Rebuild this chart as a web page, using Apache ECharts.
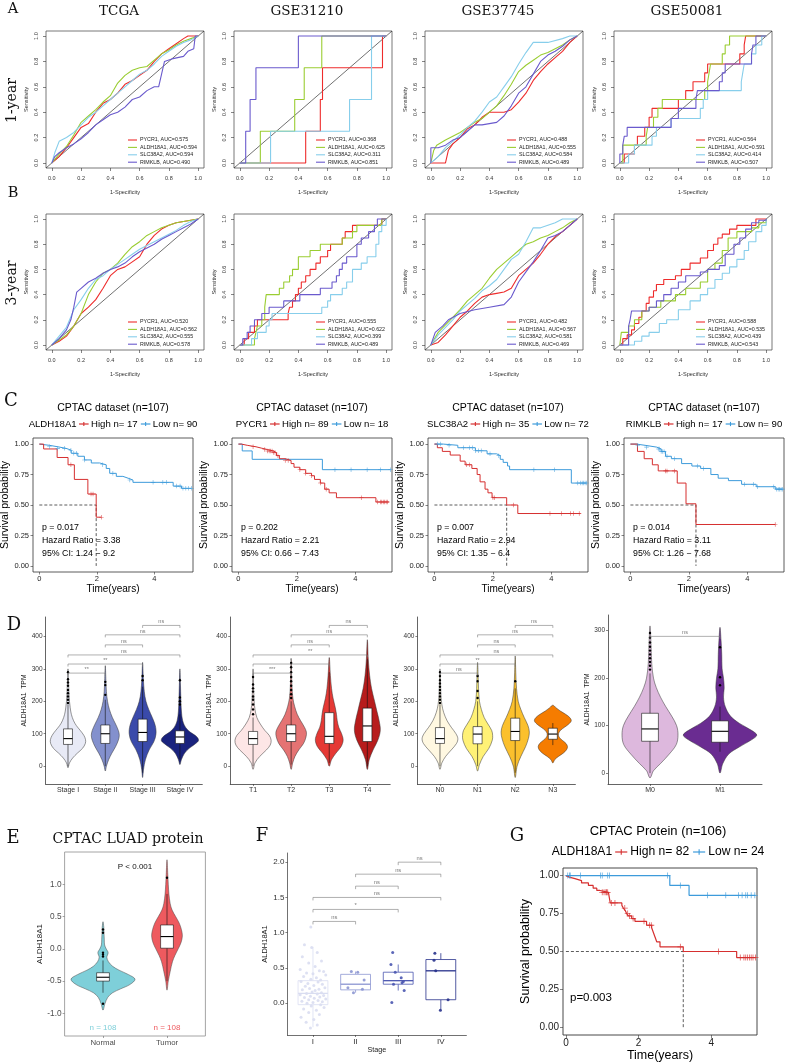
<!DOCTYPE html>
<html><head><meta charset="utf-8"><title>Figure</title>
<script src="https://cdn.jsdelivr.net/npm/echarts@6.0.0/dist/echarts.min.js"></script>
<style>html,body{margin:0;padding:0;background:#fff;}#chart{width:786px;height:1062px;}</style>
</head><body><div id="chart"></div>
<script>
// ======================= DATA =======================
// ---- ROC (A / B) ----
const rocDatasets = ['TCGA','GSE31210','GSE37745','GSE50081'];
const rocGenes = ['PYCR1','ALDH18A1','SLC38A2','RIMKLB'];
const rocAuc1Year = [[0.575,0.594,0.594,0.490],[0.368,0.625,0.311,0.851],[0.488,0.555,0.584,0.489],[0.564,0.591,0.414,0.507]];
const rocAuc3Year = [[0.520,0.562,0.555,0.578],[0.555,0.622,0.399,0.489],[0.482,0.567,0.581,0.469],[0.588,0.535,0.439,0.543]];
const rocTicks = [0,0.2,0.4,0.6,0.8,1.0];
const rocRefLine = [[-0.04,-0.04],[1.04,1.04]];
const rocSteppedDatasets = [false,true,false,true];

const rocTCGA1Year = [
 [[0,0],[0.05,0.05],[0.1,0.12],[0.15,0.2],[0.2,0.28],[0.25,0.31],[0.3,0.4],[0.35,0.47],[0.4,0.5],[0.45,0.55],[0.5,0.62],[0.55,0.65],[0.6,0.69],[0.65,0.73],[0.7,0.8],[0.75,0.86],[0.8,0.9],[0.85,0.94],[0.9,0.98],[0.93,1],[1,1]],
 [[0,0],[0.05,0.07],[0.1,0.13],[0.15,0.22],[0.2,0.32],[0.25,0.37],[0.3,0.42],[0.35,0.48],[0.4,0.53],[0.45,0.63],[0.5,0.69],[0.55,0.73],[0.6,0.75],[0.65,0.76],[0.7,0.81],[0.75,0.86],[0.8,0.89],[0.85,0.93],[0.9,0.96],[0.95,0.98],[1,1]],
 [[0,0],[0.02,0.08],[0.05,0.17],[0.1,0.2],[0.15,0.24],[0.2,0.3],[0.25,0.36],[0.3,0.4],[0.35,0.45],[0.4,0.5],[0.45,0.55],[0.5,0.6],[0.55,0.65],[0.6,0.7],[0.65,0.73],[0.7,0.78],[0.75,0.84],[0.8,0.88],[0.85,0.92],[0.9,0.95],[0.95,0.97],[1,1]],
 [[0,0],[0.02,0.05],[0.05,0.08],[0.1,0.12],[0.15,0.15],[0.2,0.19],[0.25,0.24],[0.3,0.3],[0.35,0.34],[0.4,0.38],[0.45,0.4],[0.5,0.44],[0.55,0.5],[0.6,0.52],[0.65,0.57],[0.7,0.6],[0.73,0.6],[0.75,0.7],[0.77,0.8],[0.82,0.82],[0.9,0.84],[0.93,0.88],[0.97,0.9],[0.98,1],[1,1]]
];
const rocGSE31210_1Year = [
 [[0,0],[0.45,0],[0.45,0.25],[0.55,0.25],[0.55,0.5],[0.565,0.5],[0.565,0.75],[0.975,0.75],[0.975,1],[1,1]],
 [[0,0],[0.14,0],[0.14,0.25],[0.375,0.25],[0.375,0.5],[0.44,0.5],[0.44,0.75],[0.56,0.75],[0.56,1],[1,1]],
 [[0,0],[0.21,0],[0.21,0.25],[0.75,0.25],[0.75,0.5],[0.9,0.5],[0.9,1],[1,1]],
 [[0,0],[0.04,0],[0.04,0.25],[0.07,0.25],[0.07,0.5],[0.11,0.5],[0.11,0.75],[0.4,0.75],[0.4,1],[1,1]]
];
const rocGSE37745_1Year = [
 [[0,0],[0.1,0],[0.12,0.1],[0.15,0.15],[0.2,0.2],[0.25,0.27],[0.3,0.3],[0.35,0.36],[0.4,0.4],[0.45,0.4],[0.5,0.4],[0.55,0.42],[0.6,0.48],[0.65,0.55],[0.7,0.65],[0.75,0.72],[0.8,0.78],[0.85,0.83],[0.9,0.88],[0.95,0.95],[1,1]],
 [[0,0],[0.02,0.1],[0.04,0.14],[0.1,0.18],[0.15,0.21],[0.2,0.24],[0.25,0.28],[0.3,0.32],[0.35,0.35],[0.4,0.4],[0.45,0.45],[0.5,0.53],[0.55,0.62],[0.6,0.72],[0.65,0.77],[0.7,0.81],[0.75,0.85],[0.8,0.87],[0.85,0.9],[0.9,0.93],[0.95,0.97],[1,1]],
 [[0,0],[0.05,0.05],[0.1,0.12],[0.15,0.17],[0.2,0.22],[0.25,0.28],[0.3,0.33],[0.35,0.4],[0.4,0.48],[0.45,0.52],[0.5,0.6],[0.55,0.68],[0.6,0.78],[0.65,0.87],[0.7,0.95],[0.8,0.95],[0.9,0.98],[0.95,1],[1,1]],
 [[0,0],[0,0.12],[0.05,0.12],[0.1,0.14],[0.15,0.18],[0.2,0.2],[0.25,0.25],[0.3,0.3],[0.35,0.3],[0.45,0.32],[0.5,0.37],[0.55,0.45],[0.6,0.55],[0.65,0.6],[0.7,0.7],[0.75,0.8],[0.8,0.85],[0.85,0.88],[0.9,0.92],[0.95,0.97],[1,1]]
];
const rocGSE50081_1Year = [
 [[0,0],[0.03,0.07],[0.1,0.14],[0.12,0.21],[0.17,0.28],[0.2,0.36],[0.22,0.43],[0.4,0.5],[0.45,0.57],[0.5,0.64],[0.58,0.71],[0.6,0.78],[0.82,0.86],[0.85,0.93],[0.86,1],[1,1]],
 [[0,0],[0.02,0.14],[0.18,0.21],[0.19,0.28],[0.23,0.36],[0.26,0.43],[0.29,0.5],[0.58,0.57],[0.6,0.64],[0.61,0.71],[0.62,0.78],[0.7,0.86],[0.72,0.93],[0.75,1],[1,1]],
 [[0,0],[0.06,0.07],[0.1,0.14],[0.22,0.21],[0.25,0.28],[0.35,0.35],[0.55,0.43],[0.57,0.5],[0.6,0.57],[0.83,0.64],[0.84,0.71],[0.85,0.78],[0.9,0.86],[0.93,0.93],[0.97,1],[1,1]],
 [[0,0],[0,0.07],[0.02,0.14],[0.03,0.21],[0.05,0.28],[0.35,0.35],[0.4,0.43],[0.52,0.5],[0.53,0.57],[0.68,0.64],[0.7,0.71],[0.72,0.78],[0.9,0.86],[0.91,0.93],[0.93,1],[1,1]]
];
const rocTCGA3Year = [
 [[0,0],[0.05,0.03],[0.1,0.07],[0.15,0.15],[0.2,0.25],[0.25,0.3],[0.3,0.36],[0.35,0.45],[0.4,0.55],[0.45,0.6],[0.5,0.62],[0.55,0.66],[0.6,0.7],[0.65,0.8],[0.7,0.87],[0.75,0.92],[0.8,0.95],[0.85,0.97],[0.9,0.98],[0.95,0.99],[1,1]],
 [[0,0],[0.05,0.04],[0.1,0.08],[0.15,0.15],[0.2,0.25],[0.25,0.4],[0.3,0.5],[0.35,0.57],[0.4,0.6],[0.45,0.65],[0.5,0.72],[0.55,0.78],[0.6,0.82],[0.65,0.87],[0.7,0.9],[0.75,0.93],[0.8,0.95],[0.85,0.97],[0.9,0.98],[0.95,0.99],[1,1]],
 [[0,0],[0.05,0.07],[0.1,0.14],[0.15,0.28],[0.2,0.36],[0.25,0.45],[0.3,0.52],[0.35,0.55],[0.4,0.6],[0.45,0.64],[0.5,0.68],[0.55,0.72],[0.6,0.76],[0.65,0.79],[0.7,0.82],[0.75,0.85],[0.8,0.88],[0.85,0.91],[0.9,0.95],[0.95,0.98],[1,1]],
 [[0,0],[0.05,0.05],[0.1,0.12],[0.13,0.2],[0.15,0.3],[0.17,0.42],[0.2,0.45],[0.25,0.5],[0.3,0.53],[0.35,0.57],[0.4,0.6],[0.45,0.62],[0.5,0.65],[0.55,0.7],[0.6,0.74],[0.65,0.77],[0.7,0.8],[0.75,0.84],[0.8,0.87],[0.85,0.9],[0.9,0.93],[0.95,0.96],[1,1]]
];
const rocGSE31210_3Year = [
 [[0,0],[0.03,0.05],[0.06,0.1],[0.1,0.15],[0.12,0.2],[0.33,0.25],[0.34,0.3],[0.36,0.35],[0.38,0.4],[0.4,0.45],[0.42,0.5],[0.45,0.55],[0.48,0.6],[0.52,0.65],[0.55,0.7],[0.6,0.75],[0.62,0.8],[0.7,0.85],[0.72,0.9],[0.77,0.95],[0.97,1],[1,1]],
 [[0,0],[0.1,0.05],[0.11,0.1],[0.12,0.15],[0.15,0.2],[0.17,0.3],[0.18,0.4],[0.27,0.45],[0.3,0.5],[0.34,0.55],[0.36,0.6],[0.4,0.7],[0.48,0.75],[0.55,0.8],[0.7,0.85],[0.77,0.9],[0.8,0.95],[0.97,1],[1,1]],
 [[0,0],[0.08,0.05],[0.12,0.1],[0.18,0.15],[0.2,0.2],[0.22,0.25],[0.56,0.3],[0.6,0.35],[0.62,0.4],[0.7,0.45],[0.73,0.5],[0.77,0.6],[0.83,0.65],[0.87,0.7],[0.93,0.8],[0.95,0.9],[0.97,0.95],[1,1]],
 [[0,0],[0.02,0.05],[0.05,0.1],[0.07,0.15],[0.1,0.2],[0.15,0.25],[0.2,0.3],[0.3,0.35],[0.41,0.4],[0.55,0.45],[0.63,0.5],[0.66,0.55],[0.68,0.6],[0.7,0.65],[0.73,0.7],[0.8,0.8],[0.83,0.85],[0.88,0.9],[0.92,0.95],[0.94,1],[1,1]]
];
const rocGSE37745_3Year = [
 [[0,0],[0.05,0.02],[0.1,0.08],[0.15,0.15],[0.2,0.22],[0.25,0.27],[0.3,0.33],[0.35,0.38],[0.4,0.4],[0.45,0.41],[0.5,0.42],[0.55,0.45],[0.6,0.55],[0.65,0.6],[0.7,0.65],[0.75,0.72],[0.8,0.8],[0.85,0.86],[0.9,0.9],[0.95,0.95],[1,1]],
 [[0,0],[0.05,0.1],[0.1,0.16],[0.15,0.22],[0.2,0.28],[0.25,0.35],[0.3,0.4],[0.35,0.45],[0.4,0.53],[0.45,0.6],[0.5,0.65],[0.55,0.7],[0.6,0.75],[0.65,0.8],[0.7,0.82],[0.75,0.85],[0.8,0.87],[0.85,0.9],[0.9,0.93],[0.95,0.97],[1,1]],
 [[0,0],[0.05,0.08],[0.1,0.14],[0.15,0.2],[0.2,0.27],[0.25,0.32],[0.3,0.37],[0.35,0.43],[0.4,0.47],[0.45,0.52],[0.5,0.6],[0.55,0.68],[0.6,0.72],[0.65,0.82],[0.7,0.93],[0.75,0.93],[0.8,0.95],[0.85,0.97],[0.9,1],[1,1]],
 [[0,0],[0.03,0.1],[0.08,0.15],[0.12,0.2],[0.2,0.25],[0.3,0.28],[0.4,0.3],[0.5,0.32],[0.55,0.38],[0.6,0.5],[0.65,0.58],[0.7,0.66],[0.75,0.75],[0.8,0.85],[0.85,0.87],[0.9,0.9],[0.95,0.95],[1,1]]
];
const rocGSE50081_3Year = [
 [[0,0],[0.02,0.05],[0.05,0.08],[0.08,0.12],[0.1,0.17],[0.13,0.22],[0.15,0.27],[0.18,0.33],[0.2,0.38],[0.23,0.43],[0.25,0.48],[0.3,0.52],[0.38,0.55],[0.42,0.6],[0.48,0.65],[0.55,0.69],[0.6,0.75],[0.64,0.8],[0.67,0.85],[0.7,0.88],[0.75,0.92],[0.8,0.95],[0.93,1],[1,1]],
 [[0,0],[0.01,0.1],[0.06,0.15],[0.1,0.2],[0.15,0.27],[0.2,0.3],[0.28,0.35],[0.38,0.4],[0.45,0.45],[0.55,0.5],[0.6,0.6],[0.65,0.65],[0.7,0.75],[0.74,0.85],[0.8,0.9],[0.9,0.93],[0.95,0.97],[1,1]],
 [[0,0],[0.1,0.03],[0.15,0.07],[0.2,0.1],[0.27,0.17],[0.32,0.2],[0.4,0.28],[0.48,0.35],[0.55,0.4],[0.6,0.45],[0.65,0.52],[0.7,0.57],[0.75,0.62],[0.8,0.68],[0.85,0.75],[0.88,0.82],[0.93,0.9],[0.97,0.95],[1,1]],
 [[0,0],[0.06,0.15],[0.07,0.2],[0.08,0.27],[0.2,0.3],[0.25,0.35],[0.3,0.4],[0.35,0.45],[0.4,0.5],[0.45,0.55],[0.55,0.58],[0.6,0.6],[0.68,0.63],[0.72,0.72],[0.78,0.8],[0.82,0.85],[0.86,0.92],[0.9,0.97],[0.95,0.99],[1,1]]
];

// ---- Kaplan-Meier (C) ----
const kmGenes = ['ALDH18A1','PYCR1','SLC38A2','RIMKLB'];
const kmHighN = [17,89,35,17];
const kmLowN = [90,18,72,90];
const kmPValues = ['0.017','0.202','0.007','0.014'];
const kmHazardRatios = ['3.38','2.21','2.94','3.11'];
const kmCIs = ['1.24 − 9.2','0.66 − 7.43','1.35 − 6.4','1.26 − 7.68'];
const kmMedians = [1.98,null,2.47,2.24];
const kmXMax = [5.35,5.25,5.25,5.25];
const kmTimeTicks = [0,2,4];
const kmSurvTicks = [0,0.25,0.5,0.75,1];
const kmHighSurv = [
 [[0,1],[0.15,0.96],[0.62,0.89],[1.0,0.83],[1.22,0.71],[1.69,0.59],[1.98,0.40],[2.16,0.40]],
 [[0,1],[0.1,0.99],[0.3,0.978],[0.6,0.966],[0.8,0.955],[1.0,0.943],[1.2,0.93],[1.3,0.905],[1.4,0.88],[1.6,0.865],[1.8,0.84],[1.9,0.81],[2.1,0.79],[2.3,0.76],[2.5,0.74],[2.6,0.71],[2.8,0.68],[2.95,0.63],[3.1,0.6],[3.35,0.56],[4.7,0.525],[5.15,0.525]],
 [[0,1],[0.1,0.97],[0.27,0.94],[0.54,0.91],[0.88,0.86],[1.05,0.83],[1.28,0.8],[1.46,0.75],[1.56,0.69],[1.73,0.63],[1.83,0.6],[1.97,0.56],[2.47,0.5],[2.85,0.43],[5.0,0.43]],
 [[0,1],[0.24,0.94],[0.47,0.88],[0.75,0.83],[0.95,0.78],[1.6,0.68],[1.9,0.51],[2.24,0.34],[4.95,0.34]]
];
const kmLowSurv = [
 [[0,1],[0.05,0.99],[0.35,0.978],[0.64,0.965],[0.93,0.95],[1.11,0.925],[1.34,0.9],[1.57,0.87],[1.81,0.845],[2.1,0.83],[2.33,0.8],[2.45,0.76],[2.68,0.735],[2.91,0.72],[3.09,0.705],[3.26,0.686],[4.66,0.655],[4.95,0.637],[5.3,0.637]],
 [[0,1],[0.13,0.944],[0.47,0.875],[2.87,0.79],[5.2,0.79]],
 [[0,1],[0.3,0.99],[0.8,0.97],[1.4,0.945],[1.8,0.92],[2.13,0.905],[2.25,0.875],[2.35,0.85],[2.5,0.82],[2.57,0.79],[4.68,0.68],[5.2,0.68]],
 [[0,1],[0.2,0.99],[0.5,0.975],[0.9,0.96],[1.05,0.94],[1.2,0.9],[1.4,0.88],[1.75,0.84],[2.1,0.82],[2.4,0.8],[2.75,0.75],[3.0,0.72],[3.35,0.7],[3.8,0.67],[4.3,0.65],[4.95,0.63],[5.2,0.63]]
];
const kmHighCensor = [
 [1.1,1.8,1.87,2.16],
 [0.5,0.9,1.0,1.05,1.1,1.15,1.2,1.25,1.35,1.6,1.7,2.1,2.3,2.5,2.8,3.0,4.2,4.75,4.85,4.9,4.95,5.0,5.05,5.1],
 [1.1,1.2,2.0,2.05,2.7,3.95,4.35,4.65,4.75,4.95],
 [1.2,1.25,1.5,4.95]
];
const kmLowCensor = [
 [0.35,0.64,0.87,1.1,1.2,1.3,1.57,2.2,2.56,3.15,3.96,4.3,4.43,4.78,4.9,5.0,5.1,5.2,5.3],
 [3.3,3.85,4.4,4.85,5.2],
 [0.1,0.2,0.5,1.0,1.2,1.3,1.4,1.5,1.6,1.9,2.2,3.4,4.1,4.9,5.0,5.05,5.1,5.15,5.2],
 [0.25,0.55,0.95,1.0,1.05,1.1,1.15,1.25,1.5,2.3,2.5,3.9,4.2,4.35,4.9,5.0,5.05,5.1,5.15,5.2]
];

// ---- Violins (D) : profiles are [value, relative density] ----
const stageCats = ['Stage I','Stage II','Stage III','Stage IV'];
const stageViolins = [
 [[-5,0],[10,0.08],[25,0.25],[40,0.5],[55,0.78],[70,0.93],[82,0.94],[95,0.85],[110,0.66],[125,0.45],[140,0.3],[160,0.18],[180,0.12],[200,0.08],[230,0.05],[260,0.03],[300,0]],
 [[-15,0],[0,0.06],[20,0.18],[40,0.35],[60,0.55],[80,0.7],[95,0.75],[110,0.7],[130,0.55],[150,0.38],[175,0.22],[200,0.12],[230,0.06],[270,0.03],[310,0]],
 [[-35,0],[-10,0.05],[20,0.15],[50,0.35],[75,0.6],[100,0.72],[125,0.68],[150,0.52],[175,0.33],[200,0.18],[230,0.09],[270,0.04],[320,0]],
 [[5,0],[20,0.08],[40,0.25],[55,0.5],[70,0.85],[80,1.0],[92,0.88],[105,0.55],[120,0.3],[140,0.15],[170,0.08],[210,0.05],[250,0.03],[300,0]]
];
const stageBoxes = [[0,67,85,115,190],[0,70,100,127,205],[-20,76,104,145,245],[20,70,90,109,160]];
const stageOutliers = [[195,205,215,225,235,248,258,268,290],[220,250,260],[265,278],[190,200,212,265]];
const stageComparisons = [[0,1,287,'**'],[0,2,315,'**'],[0,3,343,'ns'],[1,2,374,'ns'],[1,3,405,'ns'],[2,3,434,'ns']];

const tCats = ['T1','T2','T3','T4'];
const tViolins = [
 [[-10,0],[10,0.1],[30,0.35],[50,0.7],[65,0.9],[80,0.95],[95,0.85],[110,0.62],[130,0.38],[150,0.2],[175,0.1],[200,0.06],[240,0.03],[300,0]],
 [[-10,0],[10,0.08],[30,0.2],[50,0.4],[70,0.65],[90,0.78],[105,0.8],[120,0.7],[140,0.5],[160,0.32],[185,0.18],[210,0.09],[250,0.04],[330,0]],
 [[0,0],[20,0.12],[40,0.35],[60,0.62],[80,0.73],[100,0.65],[120,0.5],[140,0.42],[160,0.38],[180,0.32],[210,0.2],[240,0.12],[280,0.06],[335,0]],
 [[-10,0],[20,0.1],[50,0.3],[80,0.55],[110,0.68],[140,0.62],[170,0.5],[200,0.38],[240,0.22],[280,0.12],[330,0.05],[390,0]]
];
const tBoxes = [[0,67,85,107,150],[5,76,100,127,200],[10,70,92,165,290],[0,76,124,179,330]];
const tOutliers = [[160,175,190,205,215,230,240,252,275],[210,222,235,248,262,275,290,305,318],[],[]];
const tComparisons = [[0,1,287,'***'],[0,2,315,'*'],[0,3,343,'**'],[1,2,374,'ns'],[1,3,405,'ns'],[2,3,434,'ns']];

const nCats = ['N0','N1','N2','N3'];
const nViolins = [
 [[-10,0],[10,0.1],[30,0.3],[50,0.6],[70,0.88],[85,0.95],[100,0.85],[120,0.6],[140,0.38],[165,0.2],[190,0.1],[220,0.05],[260,0.03],[300,0]],
 [[-15,0],[5,0.1],[30,0.3],[55,0.6],[80,0.78],[95,0.8],[110,0.75],[130,0.55],[150,0.35],[175,0.2],[200,0.1],[240,0.05],[280,0.03],[320,0]],
 [[-35,0],[0,0.1],[30,0.3],[60,0.55],[85,0.7],[105,0.75],[125,0.68],[150,0.48],[175,0.3],[200,0.16],[240,0.07],[290,0.03],[340,0]],
 [[10,0],[20,0.1],[30,0.3],[40,0.55],[50,0.72],[60,0.78],[70,0.7],[80,0.5],[90,0.33],[100,0.3],[110,0.4],[120,0.62],[130,0.85],[140,0.98],[150,0.9],[160,0.68],[170,0.4],[180,0.17],[188,0]]
];
const nBoxes = [[0,70,85,119,190],[0,69,99,122,200],[-20,79,107,148,240],[65,83,99,117,133]];
const nOutliers = [[195,205,215,225,235,245,255,265,278,290],[210,232,262,278],[262],[]];
const nComparisons = [[0,1,287,'ns'],[0,2,315,'**'],[0,3,343,'ns'],[1,2,374,'ns'],[1,3,405,'ns'],[2,3,434,'ns']];

const mCats = ['M0','M1'];
const mViolins = [
 [[-10,0],[5,0.1],[20,0.3],[40,0.55],[60,0.75],[80,0.8],[100,0.76],[120,0.62],[140,0.45],[160,0.3],[180,0.18],[200,0.1],[230,0.05],[270,0.03],[310,0]],
 [[0,0],[20,0.08],[40,0.25],[55,0.55],[70,0.9],[80,1.05],[90,0.9],[105,0.55],[120,0.3],[140,0.15],[160,0.1],[180,0.12],[200,0.1],[220,0.06],[250,0.05],[280,0.03],[307,0]]
];
const mBoxes = [[0,67,93,126,210],[45,65,88,110,140]];
const mOutliers = [[218,226,234,242,250,258,266,275,285,295],[185,202,265]];
const mComparisons = [[0,1,288,'ns']];
const tpmTicks = [0,100,200,300,400];
const tpmTicksM = [0,100,200,300];

// ---- E ----
const eCats = ['Normal','Tumor'];
const eViolins = [
 [[-0.95,0],[-0.85,0.06],[-0.75,0.15],[-0.68,0.3],[-0.62,0.55],[-0.55,0.85],[-0.47,1.0],[-0.4,0.8],[-0.33,0.5],[-0.27,0.3],[-0.2,0.17],[-0.13,0.12],[-0.06,0.16],[0.0,0.1],[0.06,0.05],[0.15,0.04],[0.25,0.03],[0.33,0.025],[0.42,0]],
 [[-0.64,0],[-0.5,0.04],[-0.35,0.1],[-0.2,0.17],[-0.1,0.25],[0,0.35],[0.1,0.44],[0.2,0.48],[0.3,0.45],[0.4,0.38],[0.5,0.27],[0.6,0.16],[0.7,0.1],[0.85,0.06],[1.0,0.04],[1.15,0.025],[1.38,0]]
];
const eBoxes = [[-0.68,-0.5,-0.44,-0.37,-0.18],[-0.5,0.01,0.19,0.37,0.85]];
const eOutliers = [[-0.85,-0.12,-0.09,-0.06,0.25,0.3],[1.1]];
const eCounts = [108,108];
const ePText = 'P < 0.001';
const eTicks = [-1,-0.5,0,0.5,1];

// ---- F ----
const fCats = ['I','II','III','IV'];
const fBoxes = [[-0.34,-0.02,0.14,0.32,0.8],[0.15,0.19,0.27,0.41,0.45],[0.18,0.27,0.32,0.44,0.55],[-0.09,0.05,0.46,0.62,0.71]];
const fPointsStageI = [[-0.05,1.08],[-0.2,0.83],[-0.03,0.79],[0.1,0.72],[-0.25,0.66],[0.2,0.6],[-0.1,0.57],[0.05,0.52],[-0.3,0.48],[0.15,0.46],[0.25,0.45],[-0.15,0.43],[0.0,0.42],[0.3,0.4],[-0.22,0.38],[0.08,0.36],[-0.05,0.34],[0.18,0.33],[-0.28,0.31],[0.12,0.3],[-0.12,0.28],[0.22,0.27],[0.02,0.25],[-0.18,0.24],[0.28,0.22],[-0.08,0.21],[0.14,0.2],[-0.25,0.19],[0.05,0.18],[-0.02,0.16],[0.2,0.15],[-0.15,0.14],[0.1,0.13],[-0.3,0.12],[0.25,0.11],[-0.06,0.1],[0.16,0.09],[-0.2,0.08],[0.03,0.07],[0.3,0.06],[-0.1,0.05],[0.12,0.04],[-0.26,0.03],[0.22,0.02],[0.0,0.01],[-0.14,0.0],[0.18,-0.02],[-0.04,-0.04],[0.26,-0.06],[-0.22,-0.08],[0.08,-0.1],[-0.1,-0.13],[0.15,-0.16],[-0.28,-0.2],[0.02,-0.23],[-0.16,-0.27],[0.1,-0.31],[-0.06,-0.35]];
const fPointsStageII = [[-0.1,0.45],[0.05,0.44],[0.2,0.33],[-0.18,0.22],[-0.05,0.15],[0.16,0.2]];
const fPointsStageIII = [[-0.13,0.72],[-0.17,0.55],[-0.07,0.44],[0.07,0.36],[0.12,0.31],[0.09,0.29],[-0.11,0.27],[0.14,0.18],[-0.15,0.01]];
const fPointsStageIV = [[-0.14,0.71],[-0.16,0.61],[-0.12,0.46],[0.17,0.05],[-0.01,-0.1]];
const fComparisons = [[0,1,1.16,'ns'],[0,2,1.33,'*'],[0,3,1.5,'ns'],[1,2,1.66,'ns'],[1,3,1.83,'ns'],[2,3,2.0,'ns']];
const fTicks = [0,0.5,1,1.5,2];

// ---- G ----
const gGene = 'ALDH18A1';
const gHighN = 82, gLowN = 24;
const gPText = 'p=0.003';
const gMedian = 3.23;
const gHighSurv = [[0,1],[0.05,0.99],[0.09,0.98],[0.25,0.967],[0.43,0.952],[0.62,0.935],[0.75,0.917],[0.85,0.902],[0.94,0.89],[1.17,0.878],[1.22,0.82],[1.54,0.804],[1.58,0.786],[1.63,0.771],[1.67,0.75],[1.72,0.734],[1.81,0.717],[1.9,0.699],[2.22,0.673],[2.36,0.656],[2.4,0.63],[2.45,0.597],[2.5,0.564],[2.59,0.531],[3.23,0.5],[4.7,0.46],[5.22,0.46]];
const gLowSurv = [[0,1],[2.86,0.935],[3.39,0.87],[5.22,0.87]];
const gHighCensor = [1.0,1.05,1.1,1.12,1.15,1.25,1.35,1.62,1.7,1.75,1.85,2.15,2.3,2.35,3.15,4.2,4.8,4.9,4.95,5.0,5.05,5.1,5.15,5.22];
const gLowCensor = [0.05,0.1,0.12,0.4,0.95,1.0,1.15,1.2,2.8,3.15,3.9,4.4,4.75,4.85,4.95,5.0,5.1,5.2];

// ======================= STYLE =======================
const SANS = 'Liberation Sans', SERIF = 'DejaVu Serif';
const rocColors = ['#EE2C2C','#9ACD32','#87CEEB','#6A5ACD'];
const kmRed = '#D62F2F', kmBlue = '#3D9BDB';
const stageColors = ['#E8EAF6','#8390CD','#3A4AAA','#1A237E'];
const tColors = ['#FDE6E6','#E57373','#E53935','#B71C1C'];
const nColors = ['#FFF8E1','#FFF176','#FBC02D','#F57C00'];
const mColors = ['#DDB8DD','#6A2C91'];
const eColors = ['#7ECFD9','#EE5A5F'];
const fColors = ['#D9DDF1','#8C96D2','#4A56B0','#28328C'];
const PLUS = 'path://M-0.13,-1L0.13,-1L0.13,-0.13L1,-0.13L1,0.13L0.13,0.13L0.13,1L-0.13,1L-0.13,0.13L-1,0.13L-1,-0.13L-0.13,-0.13Z';

// ======================= HELPERS =======================
const grids=[], xAxes=[], yAxes=[], series=[], graphic=[], panels=[];
const mctx = document.createElement('canvas').getContext('2d');
function tw(s,size,fam){ mctx.font = size+'px "'+(fam||SANS)+'"'; return mctx.measureText(s).width; }
function axis(o){
  return {type:'value', splitLine:{show:false},
    axisLine:{show:!!o.line,onZero:false,lineStyle:{color:o.lineColor||'#000',width:0.7}},
    axisTick:{show:o.tick!==false,inside:false,length:o.tickLen||2.5,customValues:o.ticks,lineStyle:{color:o.tickColor||'#333',width:0.6}},
    axisLabel:{show:true,customValues:o.labels||o.ticks,formatter:o.fmt,fontSize:o.size,fontFamily:SANS,color:o.labelColor||'#222',margin:o.margin,rotate:o.rotate||0,hideOverlap:false},
    name:o.name||'',nameLocation:'middle',nameGap:o.nameGap||0,
    nameTextStyle:{fontSize:o.nameSize||o.size,fontFamily:SANS,color:o.nameColor||'#000'}};
}
function addPanel(p,xa,ya,g){
  const gi=grids.length;
  grids.push(Object.assign({left:p.left,top:p.top,width:p.width,height:p.height,containLabel:false,outerBoundsMode:'none',show:false},g||{}));
  xa.gridIndex=gi; xa.min=p.xmin; xa.max=p.xmax;
  ya.gridIndex=gi; ya.min=p.ymin; ya.max=p.ymax;
  xAxes.push(xa); yAxes.push(ya); panels.push(p);
  return gi;
}
function px(gi,x,y){ const p=panels[gi]; return [p.left+(x-p.xmin)/(p.xmax-p.xmin)*p.width, p.top+(p.ymax-y)/(p.ymax-p.ymin)*p.height]; }
function text(str,x,y,o){
  o=o||{};
  graphic.push({type:'text',silent:true,x:x,y:y,rotation:o.rot||0,
    style:{text:str,x:0,y:0,fill:o.color||'#000',font:(o.weight||'normal')+' '+o.size+'px "'+(o.family||SANS)+'"',
      textAlign:o.align||'center',textVerticalAlign:o.valign||'middle',align:o.align||'center',verticalAlign:o.valign||'middle'}});
}
function gline(x1,y1,x2,y2,color,w,dash){
  graphic.push({type:'line',silent:true,shape:{x1:x1,y1:y1,x2:x2,y2:y2},style:{stroke:color,lineWidth:w,lineDash:dash||null}});
}
function survAt(curve,t){ let s=1; for(const [tt,v] of curve){ if(tt<=t+1e-9) s=v; else break; } return s; }
function catFmt(cats){ return v=>cats[Math.round(v)]; }
function range(n){ return Array.from({length:n},(_,i)=>i); }

function violinSeries(gi,profiles,boxes,outliers,colors,halfFrac,boxFrac,outline){
  series.push({type:'custom',xAxisIndex:gi,yAxisIndex:gi,silent:true,clip:false,z:3,animation:false,
    data:boxes.map((b,i)=>[i,b[2]]),
    renderItem:function(params,api){
      const i=params.dataIndex, unit=api.size([1,0])[0];
      const half=unit*halfFrac, bw=unit*boxFrac, prof=profiles[i];
      const R=prof.map(([v,d])=>{const c=api.coord([i,v]);return [c[0]+d*half,c[1]];});
      const L=prof.slice(1,-1).map(([v,d])=>{const c=api.coord([i,v]);return [c[0]-d*half,c[1]];}).reverse();
      const ch=[{type:'polygon',shape:{points:R.concat(L),smooth:0.35},style:{fill:colors[i],stroke:outline||'#333',lineWidth:0.5}}];
      const [lo,q1,md,q3,hi]=boxes[i];
      const cl=api.coord([i,lo]),ch_=api.coord([i,hi]),c1=api.coord([i,q1]),c3=api.coord([i,q3]),cm=api.coord([i,md]);
      ch.push({type:'line',shape:{x1:cl[0],y1:cl[1],x2:ch_[0],y2:ch_[1]},style:{stroke:'#111',lineWidth:0.6}});
      ch.push({type:'rect',shape:{x:c1[0]-bw/2,y:c3[1],width:bw,height:c1[1]-c3[1]},style:{fill:'#fff',stroke:'#111',lineWidth:0.6}});
      ch.push({type:'line',shape:{x1:cm[0]-bw/2,y1:cm[1],x2:cm[0]+bw/2,y2:cm[1]},style:{stroke:'#000',lineWidth:1.1}});
      (outliers[i]||[]).forEach(v=>{const c=api.coord([i,v]);ch.push({type:'circle',shape:{cx:c[0],cy:c[1],r:1.2},style:{fill:'#000'}});});
      return {type:'group',children:ch};
    }});
}
function bracketSeries(gi,comps,color,fs,tip){
  series.push({type:'custom',xAxisIndex:gi,yAxisIndex:gi,silent:true,clip:false,z:5,animation:false,
    data:comps.map(c=>[c[0],c[2]]),
    renderItem:function(params,api){
      const c=comps[params.dataIndex], a=api.coord([c[0],c[2]]), b=api.coord([c[1],c[2]]);
      return {type:'group',children:[
        {type:'polyline',shape:{points:[[a[0],a[1]+tip],[a[0],a[1]],[b[0],b[1]],[b[0],b[1]+tip]]},style:{stroke:color,lineWidth:0.6,fill:null}},
        {type:'text',style:{text:c[3],x:(a[0]+b[0])/2,y:a[1]-0.8,textAlign:'center',textVerticalAlign:'bottom',align:'center',verticalAlign:'bottom',font:fs+'px "'+SANS+'"',fill:color}}]};
    }});
}
function boxJitterSeries(gi,boxes,pointSets,colors,boxFrac){
  series.push({type:'custom',xAxisIndex:gi,yAxisIndex:gi,silent:true,clip:false,z:3,animation:false,
    data:boxes.map((b,i)=>[i,b[2]]),
    renderItem:function(params,api){
      const i=params.dataIndex, unit=api.size([1,0])[0], bw=unit*boxFrac, col=colors[i];
      const [lo,q1,md,q3,hi]=boxes[i];
      const cl=api.coord([i,lo]),chh=api.coord([i,hi]),c1=api.coord([i,q1]),c3=api.coord([i,q3]),cm=api.coord([i,md]);
      const ch=[
        {type:'line',shape:{x1:cl[0],y1:cl[1],x2:c1[0],y2:c1[1]},style:{stroke:col,lineWidth:0.8}},
        {type:'line',shape:{x1:c3[0],y1:c3[1],x2:chh[0],y2:chh[1]},style:{stroke:col,lineWidth:0.8}},
        {type:'rect',shape:{x:c1[0]-bw/2,y:c3[1],width:bw,height:c1[1]-c3[1]},style:{fill:'#fff',stroke:col,lineWidth:0.8}},
        {type:'line',shape:{x1:cm[0]-bw/2,y1:cm[1],x2:cm[0]+bw/2,y2:cm[1]},style:{stroke:col,lineWidth:1.3}}];
      pointSets[i].forEach(([dx,v])=>{const c=api.coord([i+dx,v]);ch.push({type:'circle',shape:{cx:c[0],cy:c[1],r:1.5},style:{fill:col,opacity:0.9}});});
      return {type:'group',children:ch};
    }});
}
function kmCurves(gi,surv,censor,color,sym,lw){
  series.push({type:'line',xAxisIndex:gi,yAxisIndex:gi,data:surv,step:'end',symbol:'none',silent:true,animation:false,z:3,lineStyle:{color:color,width:lw}});
  series.push({type:'scatter',xAxisIndex:gi,yAxisIndex:gi,data:censor.map(t=>[t,survAt(surv,t)]),symbol:PLUS,symbolSize:sym,silent:true,animation:false,z:4,itemStyle:{color:color}});
}
function kmMedianLine(gi,m){
  series.push({type:'line',xAxisIndex:gi,yAxisIndex:gi,data:[[0,0.5],[m,0.5],[m,0]],symbol:'none',silent:true,animation:false,z:2,lineStyle:{color:'#333',width:0.8,type:[3,2]}});
}
function kmLegend(cx,y,gene,hi,lo,size){
  const gap=size*0.25, mw=size*1.0;
  const s1=gene, s2='High n= '+hi, s3='Low n= '+lo;
  const total=tw(s1,size)+gap+mw+gap+tw(s2,size)+gap*1.3+mw+gap+tw(s3,size);
  let x=cx-total/2;
  text(s1,x,y,{size:size,align:'left'}); x+=tw(s1,size)+gap;
  gline(x,y,x+mw,y,kmRed,1.2); gline(x+mw/2,y-size*0.22,x+mw/2,y+size*0.22,kmRed,1.1); x+=mw+gap;
  text(s2,x,y,{size:size,align:'left'}); x+=tw(s2,size)+gap*1.3;
  gline(x,y,x+mw,y,kmBlue,1.2); gline(x+mw/2,y-size*0.22,x+mw/2,y+size*0.22,kmBlue,1.1); x+=mw+gap;
  text(s3,x,y,{size:size,align:'left'});
}

// ======================= PANELS A & B (ROC) =======================
const rocLefts=[46,234,425,614], rocWidth=158;
const rocRows=[
  {top:31,h:137,label:'1-year',letter:'A',curves:[rocTCGA1Year,rocGSE31210_1Year,rocGSE37745_1Year,rocGSE50081_1Year],auc:rocAuc1Year},
  {top:214,h:136,label:'3-year',letter:'B',curves:[rocTCGA3Year,rocGSE31210_3Year,rocGSE37745_3Year,rocGSE50081_3Year],auc:rocAuc3Year}
];
rocRows.forEach((row,r)=>{
  rocDatasets.forEach((ds,d)=>{
    const p={left:rocLefts[d],top:row.top,width:rocWidth,height:row.h,xmin:-0.04,xmax:1.04,ymin:-0.04,ymax:1.04};
    const xa=axis({ticks:rocTicks,fmt:v=>v.toFixed(1),size:5.5,margin:7,tickLen:3,labelColor:'#333',name:'1-Specificity',nameGap:21,nameSize:5.6,nameColor:'#333'});
    const ya=axis({ticks:rocTicks,fmt:v=>v.toFixed(1),size:5.5,margin:7,tickLen:3,labelColor:'#333',rotate:90,name:'Sensitivity',nameGap:17,nameSize:5.6,nameColor:'#333'});
    const gi=addPanel(p,xa,ya,{show:true,borderColor:'#555',borderWidth:0.8,backgroundColor:'rgba(0,0,0,0)'});
    series.push({type:'line',xAxisIndex:gi,yAxisIndex:gi,data:rocRefLine,symbol:'none',silent:true,animation:false,z:1,lineStyle:{color:'#111',width:0.6}});
    row.curves[d].forEach((pts,g)=>{
      series.push({type:'line',xAxisIndex:gi,yAxisIndex:gi,data:pts,symbol:'none',step:rocSteppedDatasets[d]?'end':false,silent:true,animation:false,z:2+g,lineStyle:{color:rocColors[g],width:1.1}});
    });
    const R=p.left+p.width, B=p.top+p.height;
    rocGenes.forEach((gname,k)=>{
      const yy=B-28+k*7.4;
      gline(R-76,yy,R-67,yy,rocColors[k],1.1);
      text(gname+', AUC='+row.auc[d][k].toFixed(3),R-64,yy,{size:5.3,align:'left',color:'#222'});
    });
    if(r===0) text(ds,p.left+p.width/2-6,11,{size:13.5,family:SERIF,color:'#111'});
  });
  text(row.letter,13,r===0?9:193,{size:14.5,family:SERIF,color:'#111'});
  text(row.label,12,row.top+row.h/2+1,{size:14,family:SERIF,color:'#111',rot:Math.PI/2});
});

// ======================= PANEL C (KM) =======================
const kmLefts=[33,232,428,624];
text('C',11,401,{size:18,family:SERIF,color:'#111'});
kmGenes.forEach((gene,k)=>{
  const p={left:kmLefts[k],top:438,width:160,height:134,xmin:-0.22,xmax:kmXMax[k],ymin:-0.05,ymax:1.05};
  const xa=axis({ticks:kmTimeTicks,fmt:v=>String(v),size:7.5,margin:3,tickLen:2.5,labelColor:'#222',name:'Time(years)',nameGap:11,nameSize:10});
  const ya=axis({ticks:kmSurvTicks,fmt:v=>v.toFixed(2),size:7.5,margin:4,tickLen:2.5,labelColor:'#222',name:'Survival probability',nameGap:20,nameSize:10.5});
  const gi=addPanel(p,xa,ya,{show:true,borderColor:'#333',borderWidth:0.8,backgroundColor:'rgba(0,0,0,0)'});
  if(kmMedians[k]!==null) kmMedianLine(gi,kmMedians[k]);
  kmCurves(gi,kmLowSurv[k],kmLowCensor[k],kmBlue,4.5,1);
  kmCurves(gi,kmHighSurv[k],kmHighCensor[k],kmRed,4.5,1);
  const cx=p.left+p.width/2;
  text('CPTAC dataset (n=107)',cx,408,{size:10.5});
  kmLegend(cx,424,gene,kmHighN[k],kmLowN[k],9.6);
  text('p = '+kmPValues[k],p.left+9,p.top+90,{size:8.8,align:'left'});
  text('Hazard Ratio = '+kmHazardRatios[k],p.left+9,p.top+103,{size:8.8,align:'left'});
  text('95% CI: '+kmCIs[k],p.left+9,p.top+116,{size:8.8,align:'left'});
});

// ======================= PANEL D (violins) =======================
text('D',14,625,{size:18,family:SERIF,color:'#111'});
const dPanels=[
  {left:45.6,width:156.7,cats:stageCats,v:stageViolins,b:stageBoxes,o:stageOutliers,c:stageColors,cmp:stageComparisons,ymin:-55,ymax:460,top:617,h:167,ticks:tpmTicks},
  {left:230.2,width:160,cats:tCats,v:tViolins,b:tBoxes,o:tOutliers,c:tColors,cmp:tComparisons,ymin:-55,ymax:460,top:617,h:167,ticks:tpmTicks},
  {left:417.4,width:158,cats:nCats,v:nViolins,b:nBoxes,o:nOutliers,c:nColors,cmp:nComparisons,ymin:-55,ymax:460,top:617,h:167,ticks:tpmTicks},
  {left:608,width:154,cats:mCats,v:mViolins,b:mBoxes,o:mOutliers,c:mColors,cmp:mComparisons,ymin:-23,ymax:333,top:615,h:169,ticks:tpmTicksM}
];
dPanels.forEach(dp=>{
  const n=dp.cats.length;
  const p={left:dp.left,top:dp.top,width:dp.width,height:dp.h,xmin:-0.6,xmax:n-0.4,ymin:dp.ymin,ymax:dp.ymax};
  const xa=axis({ticks:range(n),fmt:catFmt(dp.cats),size:7,margin:3,tickLen:2,line:true,lineColor:'#222',labelColor:'#333'});
  const ya=axis({ticks:dp.ticks,fmt:v=>String(v),size:6.5,margin:3,tickLen:2,line:true,lineColor:'#222',labelColor:'#333',name:'ALDH18A1  TPM',nameGap:16,nameSize:6.8,nameColor:'#222'});
  const gi=addPanel(p,xa,ya);
  violinSeries(gi,dp.v,dp.b,dp.o,dp.c,0.5,0.24,'#333');
  bracketSeries(gi,dp.cmp,'#7a7a7a',5.5,2.5);
});

// ======================= PANEL E =======================
text('E',13,838,{size:18,family:SERIF,color:'#111'});
text('CPTAC LUAD protein',128,839,{size:14,family:SERIF,color:'#111'});
(function(){
  const p={left:64.6,top:852,width:140.8,height:184,xmin:-0.6,xmax:1.6,ymin:-1.35,ymax:1.5};
  const xa=axis({ticks:[0,1],fmt:catFmt(eCats),size:7.8,margin:3,tickLen:2,tickColor:'#666',labelColor:'#4D4D4D'});
  const ya=axis({ticks:eTicks,fmt:v=>v.toFixed(1),size:8.3,margin:3,tickLen:2,tickColor:'#666',labelColor:'#4D4D4D',name:'ALDH18A1',nameGap:19,nameSize:8,nameColor:'#222'});
  const gi=addPanel(p,xa,ya,{show:true,borderColor:'#9a9a9a',borderWidth:0.9,backgroundColor:'rgba(0,0,0,0)'});
  violinSeries(gi,eViolins,eBoxes,eOutliers,eColors,0.5,0.2,'#444');
  text(ePText,p.left+p.width/2,867,{size:8,color:'#111'});
  eCats.forEach((c,i)=>{const q=px(gi,i,-1.225); text('n = '+eCounts[i],q[0],q[1],{size:8,color:eColors[i]});});
})();

// ======================= PANEL F =======================
text('F',262,836,{size:18,family:SERIF,color:'#111'});
(function(){
  const p={left:287.4,top:853,width:179,height:182,xmin:-0.6,xmax:3.6,ymin:-0.45,ymax:2.13};
  const xa=axis({ticks:[0,1,2,3],fmt:catFmt(fCats),size:8,margin:3,tickLen:2,line:true,lineColor:'#333',labelColor:'#333',name:'Stage',nameGap:12,nameSize:7.2,nameColor:'#222'});
  const ya=axis({ticks:fTicks,fmt:v=>v.toFixed(1),size:8,margin:3,tickLen:2,line:true,lineColor:'#333',labelColor:'#333',name:'ALDH18A1',nameGap:15,nameSize:7.5,nameColor:'#222'});
  const gi=addPanel(p,xa,ya);
  boxJitterSeries(gi,fBoxes,[fPointsStageI,fPointsStageII,fPointsStageIII,fPointsStageIV],fColors,0.7);
  bracketSeries(gi,fComparisons,'#7a7a7a',5.8,3);
})();

// ======================= PANEL G =======================
text('G',517,836,{size:18,family:SERIF,color:'#111'});
(function(){
  const p={left:563,top:868,width:194,height:167,xmin:-0.08,xmax:5.26,ymin:-0.05,ymax:1.05};
  const xa=axis({ticks:kmTimeTicks,fmt:v=>String(v),size:10,margin:3,tickLen:3,labelColor:'#222',name:'Time(years)',nameGap:12,nameSize:12.5});
  const ya=axis({ticks:kmSurvTicks,fmt:v=>v.toFixed(2),size:10,margin:4,tickLen:3,labelColor:'#222',name:'Survival probability',nameGap:31,nameSize:12.5});
  const gi=addPanel(p,xa,ya,{show:true,borderColor:'#333',borderWidth:0.9,backgroundColor:'rgba(0,0,0,0)'});
  kmMedianLine(gi,gMedian);
  kmCurves(gi,gLowSurv,gLowCensor,kmBlue,6,1.2);
  kmCurves(gi,gHighSurv,gHighCensor,kmRed,6,1.2);
  const cx=p.left+p.width/2-2;
  text('CPTAC Protein (n=106)',cx,831,{size:13});
  kmLegend(cx,852,gGene,gHighN,gLowN,12.1);
  text(gPText,p.left+7,998,{size:11.5,align:'left'});
})();

// ======================= RENDER =======================
const chart = echarts.init(document.getElementById('chart'), null, {renderer:'canvas',width:786,height:1062});
chart.setOption({
  animation:false,
  backgroundColor:'#ffffff',
  textStyle:{fontFamily:SANS},
  grid:grids, xAxis:xAxes, yAxis:yAxes, series:series, graphic:graphic
});
</script></body></html>
